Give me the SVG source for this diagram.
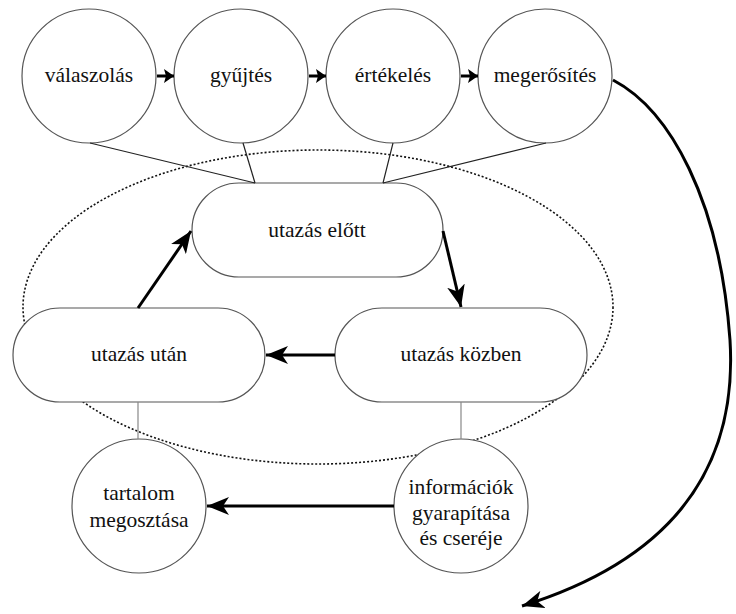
<svg xmlns="http://www.w3.org/2000/svg" width="736" height="614" viewBox="0 0 736 614">
<style>
.node{fill:#fff;stroke:#555;stroke-width:1.2}
.lbl{font-family:'Liberation Serif','Times New Roman',serif;font-size:21.5px;fill:#111;text-anchor:middle}
.thin{stroke:#222;stroke-width:1.2;fill:none}
.gray{stroke:#888;stroke-width:1.2;fill:none}
.arr{stroke:#000;stroke-width:3;fill:none;marker-end:url(#ah)}
.sarr{stroke:#000;stroke-width:3;fill:none;marker-end:url(#sh)}
</style>
<defs>
<marker id="ah" markerUnits="userSpaceOnUse" markerWidth="24" markerHeight="18" refX="22" refY="9" orient="auto">
<path d="M0,0 L22,9 L0,18 L6,9 Z" fill="#000"/>
</marker>
<marker id="sh" markerUnits="userSpaceOnUse" markerWidth="12" markerHeight="14" refX="10" refY="7" orient="auto">
<path d="M0,0 L10,7 L0,14 L2,7 Z" fill="#000"/>
</marker>
</defs>
<rect width="736" height="614" fill="#fff"/>
<ellipse cx="318" cy="307" rx="295" ry="157" fill="none" stroke="#111" stroke-width="1.6" stroke-dasharray="2,2"/>
<g id="n-valaszolas"><circle class="node" cx="89" cy="76" r="67"/><text class="lbl" x="89" y="82">válaszolás</text></g>
<g id="n-gyujtes"><circle class="node" cx="241" cy="76" r="67"/><text class="lbl" x="241" y="82">gyűjtés</text></g>
<g id="n-ertekeles"><circle class="node" cx="393" cy="76" r="67"/><text class="lbl" x="393" y="82">értékelés</text></g>
<g id="n-megerosites"><circle class="node" cx="545" cy="76" r="67"/><text class="lbl" x="545" y="82">megerősítés</text></g>
<g id="n-elott"><rect class="node" x="192" y="183" width="251" height="94" rx="47"/><text class="lbl" x="317" y="237">utazás előtt</text></g>
<g id="n-utan"><rect class="node" x="13" y="308" width="252" height="94" rx="47"/><text class="lbl" x="139" y="361">utazás után</text></g>
<g id="n-kozben"><rect class="node" x="335" y="308" width="252" height="94" rx="47"/><text class="lbl" x="461" y="361">utazás közben</text></g>
<g id="n-tartalom"><circle class="node" cx="139" cy="506" r="67"/><text class="lbl" x="139" y="500">tartalom</text><text class="lbl" x="139" y="527">megosztása</text></g>
<g id="n-informaciok"><circle class="node" cx="461" cy="506" r="67"/><text class="lbl" x="461" y="494">információk</text><text class="lbl" x="461" y="520">gyarapítása</text><text class="lbl" x="461" y="545">és cseréje</text></g>
<g id="connectors">
<line class="sarr" x1="157" y1="76" x2="174" y2="76"/>
<line class="sarr" x1="309" y1="76" x2="326" y2="76"/>
<line class="sarr" x1="461" y1="76" x2="478" y2="76"/>
<line class="thin" x1="90" y1="143" x2="255" y2="183"/>
<line class="thin" x1="243" y1="143" x2="255" y2="183"/>
<line class="thin" x1="393" y1="143" x2="383" y2="183"/>
<line class="thin" x1="546" y1="143" x2="383" y2="183"/>
<line class="arr" x1="138" y1="308" x2="191" y2="231"/>
<line class="arr" x1="443" y1="231" x2="461" y2="307"/>
<line class="arr" x1="335" y1="355" x2="266" y2="355"/>
<line class="gray" x1="138" y1="402" x2="138" y2="439"/>
<line class="gray" x1="461" y1="402" x2="461" y2="439"/>
<line class="arr" x1="394" y1="506" x2="207" y2="506"/>
<path class="arr" d="M613 80 C670 110 720 200 730 340 C738 470 670 560 522 606"/>
</g>
</svg>
